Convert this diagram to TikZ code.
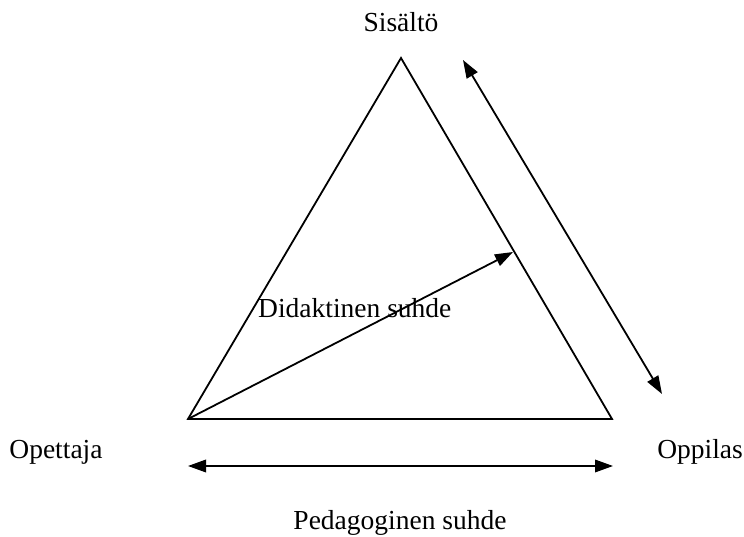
\documentclass[tikz,border=0pt]{standalone}
\usepackage{fontspec}
\setmainfont{Liberation Serif}
\usetikzlibrary{arrows.meta}
\begin{document}
\begin{tikzpicture}[x=1pt,y=-1pt,
  lbl/.style={inner sep=0pt,font=\fontsize{27.5}{33}\selectfont},
  edge/.style={line width=1.8pt},
  tip/.tip={Triangle[length=18pt,width=12.5pt]},
  arr/.style={line width=1.8pt,tip-tip},
  sarr/.style={line width=1.8pt,-tip}]
\useasboundingbox (0,0) rectangle (744,537);
\coordinate (top) at (401,58);
\coordinate (bl) at (188,419);
\coordinate (br) at (612,419);
\coordinate (dt) at (513,252);
\coordinate (r1) at (463,60);
\coordinate (r2) at (662,394);
\coordinate (b1) at (188,466);
\coordinate (b2) at (613,466);
\draw[edge,line join=miter] (top) -- (bl) -- (br) -- cycle;
\draw[sarr] (bl) -- (dt);
\draw[arr] (r1) -- (r2);
\draw[arr] (b1) -- (b2);
\node[lbl] (sis) at (401,22) {Sisältö};
\node[lbl] (ope) at (56,452) {Opettaja};
\node[lbl,anchor=east] (opp) at (743,452) {Oppilas};
\node[lbl] (ped) at (400,523) {Pedagoginen suhde};
\node[lbl,anchor=west] (did) at (258,308) {Didaktinen suhde};
\end{tikzpicture}
\end{document}
